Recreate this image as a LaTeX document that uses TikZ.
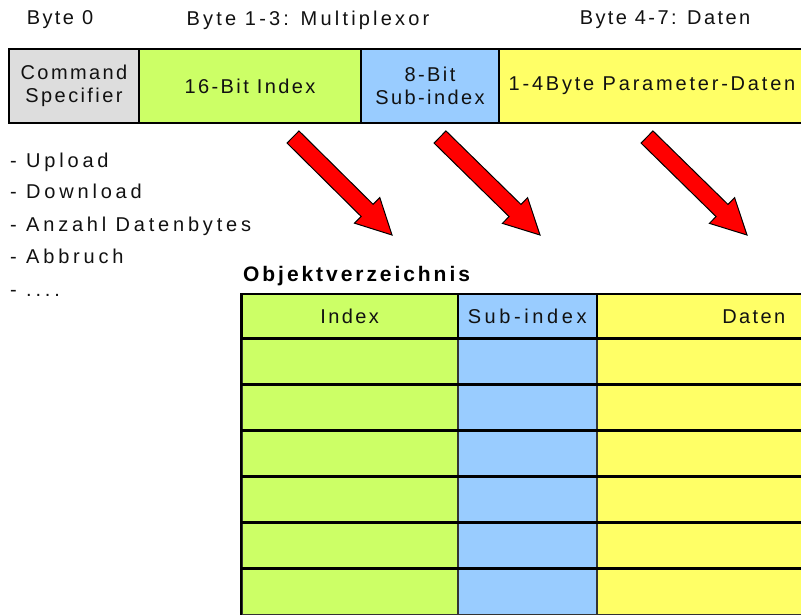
\documentclass[tikz,border=0pt]{standalone}
\usepackage{fontspec}
\setmainfont{Liberation Sans}[LetterSpace=12]
\usetikzlibrary{calc}
\definecolor{cmdgray}{HTML}{DDDDDD}
\definecolor{idxgreen}{HTML}{CCFF66}
\definecolor{subblue}{HTML}{99CCFF}
\definecolor{datyellow}{HTML}{FFFF66}
\definecolor{txtcol}{HTML}{111111}
\newcommand{\redarrow}[3]{%
  \coordinate (#1-a) at #2; \coordinate (#1-b) at #3;
  \coordinate (#1-hb) at ($(#1-b)!35pt!(#1-a)$);
  \filldraw[arrowfill] ($(#1-a)!8.5pt!90:(#1-b)$) -- ($(#1-hb)!8.5pt!90:(#1-b)$) -- ($(#1-hb)!18pt!90:(#1-b)$) -- (#1-b) -- ($(#1-hb)!18pt!-90:(#1-b)$) -- ($(#1-hb)!8.5pt!-90:(#1-b)$) -- ($(#1-a)!8.5pt!-90:(#1-b)$) -- cycle;
}
\begin{document}
\begin{tikzpicture}[x=1pt,y=-1pt,
  txt/.style={font=\fontsize{20}{23}\selectfont, text=txtcol, inner sep=0pt},
  listtxt/.style={font=\fontsize{20}{23}\selectfont\addfontfeature{LetterSpace=19}, text=txtcol, inner sep=0pt, anchor=base west},
  barcell/.style={draw=black, line width=2pt, anchor=north west, inner sep=0pt,
    font=\fontsize{20}{23}\selectfont, text=txtcol, align=center, minimum height=74pt},
  headcell/.style={draw=black, line width=1.5pt, anchor=north west, inner sep=0pt,
    font=\fontsize{20}{23}\selectfont, text=txtcol, minimum height=45pt},
  rowcell/.style={draw=black!80, line width=1.5pt, anchor=north west, inner sep=0pt, minimum height=46pt},
  arrowfill/.style={fill=red, draw=black, line width=1pt, line join=miter}
]
\useasboundingbox[fill=white] (0,0) rectangle (801,614);

% header labels
\node[txt] (b0) at (60,20) {Byte 0};
\node[txt, font=\fontsize{20}{23}\selectfont\addfontfeature{LetterSpace=16}] (b13) at (308,20) {Byte 1-3: Multiplexor};
\node[txt] (b47) at (665,20) {Byte 4-7: Daten};

% top bar
\node[barcell, fill=cmdgray, minimum width=130pt] (cmd) at (8,48) {Command\\Specifier};
\node[barcell, fill=idxgreen, minimum width=222pt] (idx) at (138,48) {16-Bit Index};
\node[barcell, fill=subblue, minimum width=138pt] (sub) at (360,48) {8-Bit\\Sub-index};
\node[barcell, fill=datyellow, minimum width=306pt, font=\fontsize{20}{23}\selectfont\addfontfeature{LetterSpace=14}] (dat) at (498,48) {1-4Byte Parameter-Daten};

% list
\node[listtxt] (l1) at (10,167) {- Upload};
\node[listtxt] (l2) at (10,198) {- Download};
\node[listtxt] (l3) at (10,231) {- Anzahl Datenbytes};
\node[listtxt] (l4) at (10,263) {- Abbruch};
\node[listtxt] (l5) at (10,296) {- ....};

% arrows
\redarrow{ar1}{(293,137)}{(392,235)}
\redarrow{ar2}{(440,137)}{(540,235)}
\redarrow{ar3}{(647,137)}{(747,235)}

% object directory
\node[inner sep=0pt, anchor=base west, font=\bfseries\fontsize{21}{24}\selectfont\addfontfeature{LetterSpace=14}] (title) at (243,281) {Objektverzeichnis};

\node[headcell, fill=idxgreen, minimum width=216pt] (hidx) at (241,293) {Index};
\node[headcell, fill=subblue, minimum width=139pt, font=\fontsize{20}{23}\selectfont\addfontfeature{LetterSpace=18}] (hsub) at (457,293) {Sub-index};
\node[headcell, fill=datyellow, minimum width=314pt] (hdat) at (596,293) {Daten};

\foreach \k in {0,...,5} {
  \node[rowcell, fill=idxgreen, minimum width=216pt] (ri\k) at (241,{338+46*\k}) {};
  \node[rowcell, fill=subblue, minimum width=139pt] (rs\k) at (457,{338+46*\k}) {};
  \node[rowcell, fill=datyellow, minimum width=314pt] (rd\k) at (596,{338+46*\k}) {};
}
\foreach \k in {0,...,5} {
  \draw[line width=3pt] (ri\k.north west) -- (rd\k.north east);
}
\draw[line width=2pt] (hidx.north west) -- (ri5.south west);
\end{tikzpicture}
\end{document}
